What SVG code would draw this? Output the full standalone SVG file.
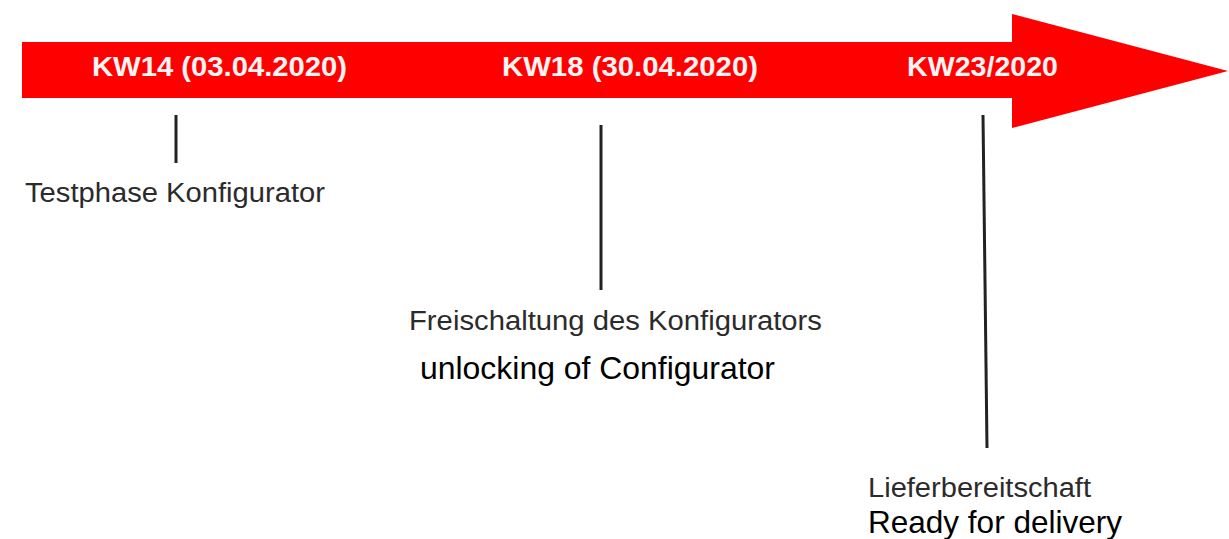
<svg xmlns="http://www.w3.org/2000/svg" width="1229" height="539" viewBox="0 0 1229 539">
  <style>
    .kw { font-family: "Liberation Sans", Arial, sans-serif; font-weight: bold; font-size: 28px; fill: #fff4f4; }
    .de { font-family: "Liberation Sans", Arial, sans-serif; font-size: 27px; fill: #2b2b2b; }
    .en { font-family: "Liberation Sans", Arial, sans-serif; font-size: 32px; fill: #000000; }
    .tick { stroke: #222222; stroke-width: 3; fill: none; }
  </style>
  <rect width="1229" height="539" fill="#ffffff"/>
  <g id="timeline-arrow">
    <polygon points="22,42 1012,42 1012,14 1228,71 1012,128 1012,98 22,98" fill="#ff0000"/>
    <text class="kw" x="92" y="76" textLength="255" lengthAdjust="spacingAndGlyphs">KW14 (03.04.2020)</text>
    <text class="kw" x="502" y="76" textLength="256" lengthAdjust="spacingAndGlyphs">KW18 (30.04.2020)</text>
    <text class="kw" x="907" y="76" textLength="151" lengthAdjust="spacingAndGlyphs">KW23/2020</text>
  </g>
  <g id="connectors">
    <line class="tick" x1="176" y1="115" x2="176" y2="163"/>
    <line class="tick" x1="601" y1="125" x2="601" y2="290"/>
    <line class="tick" x1="983" y1="115" x2="987" y2="448"/>
  </g>
  <g id="milestone-kw14">
    <text class="de" x="25" y="202" textLength="300" lengthAdjust="spacingAndGlyphs">Testphase Konfigurator</text>
  </g>
  <g id="milestone-kw18">
    <text class="de" x="409" y="330" textLength="413" lengthAdjust="spacingAndGlyphs">Freischaltung des Konfigurators</text>
    <text class="en" x="420" y="379" textLength="355" lengthAdjust="spacingAndGlyphs">unlocking of Configurator</text>
  </g>
  <g id="milestone-kw23">
    <text class="de" x="868" y="497" textLength="223" lengthAdjust="spacingAndGlyphs">Lieferbereitschaft</text>
    <text class="en" x="868" y="533" textLength="254" lengthAdjust="spacingAndGlyphs">Ready for delivery</text>
  </g>
</svg>
